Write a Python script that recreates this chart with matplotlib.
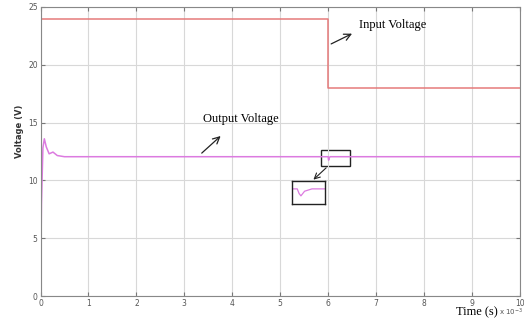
import numpy as np
import matplotlib.pyplot as plt

# input step: 24 V dropping to 18 V at t = 6 ms
in_t = [0.0, 6.0, 6.0, 10.0]
in_v = [24.0, 24.0, 18.0, 18.0]

# converter output, start-up overshoot and a small dip at the input step
out_t = [0.0, 0.02, 0.05, 0.08, 0.12, 0.18, 0.26, 0.35, 0.5, 6.0, 6.005, 6.01, 6.02, 6.04, 10.0]
out_v = [0.0, 8.0, 12.8, 13.6, 12.9, 12.3, 12.45, 12.15, 12.05, 12.05, 11.85, 11.75, 11.95, 12.05, 12.05]

xticks = list(range(0, 11))
yticks = [0, 5, 10, 15, 20, 25]

red = '#e57a7a'
mag = '#dc7be0'
serif = 'Liberation Serif'
arrow = dict(arrowstyle='->', color='#222222', lw=0.9, mutation_scale=12)

fig = plt.figure(figsize=(5.24, 3.24), dpi=100)
ax = fig.add_axes([0.0773, 0.0864, 0.915, 0.892])

ax.plot(in_t, in_v, color=red, lw=1.1)
ax.plot(out_t, out_v, color=mag, lw=1.1)

ax.set_xlim(0, 10)
ax.set_ylim(0, 25)
ax.set_xticks(xticks)
ax.set_yticks(yticks)
ax.grid(True, color='#d8d8d8', lw=0.8)
ax.tick_params(direction='in', length=3, labelsize=5.5, labelcolor='#555555',
               color='#777777', top=True, right=True, pad=2)
for s in ax.spines.values():
    s.set_color('#888888')
    s.set_linewidth(0.8)

fig.text(0.038, 0.596, 'Voltage (V)', fontsize=6, fontweight='bold', color='#333333',
         rotation=90, ha='center', va='center')
fig.text(0.91, 0.035, 'Time (s)', fontsize=9, family=serif, ha='center', va='center')
fig.text(0.975, 0.035, r'x 10$^{-3}$', fontsize=5, color='#555555', ha='center', va='center')

# annotations
ax.annotate('', xy=(6.55, 22.8), xytext=(6.01, 21.7), arrowprops=arrow)
ax.text(6.65, 23.4, 'Input Voltage', fontsize=9, family=serif, va='center')
ax.annotate('', xy=(3.8, 14.0), xytext=(3.32, 12.2), arrowprops=arrow)
ax.text(3.38, 15.3, 'Output Voltage', fontsize=9, family=serif, va='center')

# zoom boxes around the dip at t = 6 ms
ax.add_patch(plt.Rectangle((5.84, 11.25), 0.61, 1.38, fill=False, ec='#222222', lw=1.0))
ax.annotate('', xy=(5.65, 9.9), xytext=(6.0, 11.25),
            arrowprops=dict(arrowstyle='->', color='#222222', lw=0.8))
ins = ax.inset_axes([5.24, 7.96, 0.69, 1.99], transform=ax.transData)
ins.plot(out_t, out_v, color=mag, lw=0.9)
ins.set_xlim(5.985, 6.075)
ins.set_ylim(11.4, 12.39)
ins.set_xticks([])
ins.set_yticks([])
for s in ins.spines.values():
    s.set_color('#222222')
    s.set_linewidth(1.0)

fig.savefig('out.png', dpi=100)
